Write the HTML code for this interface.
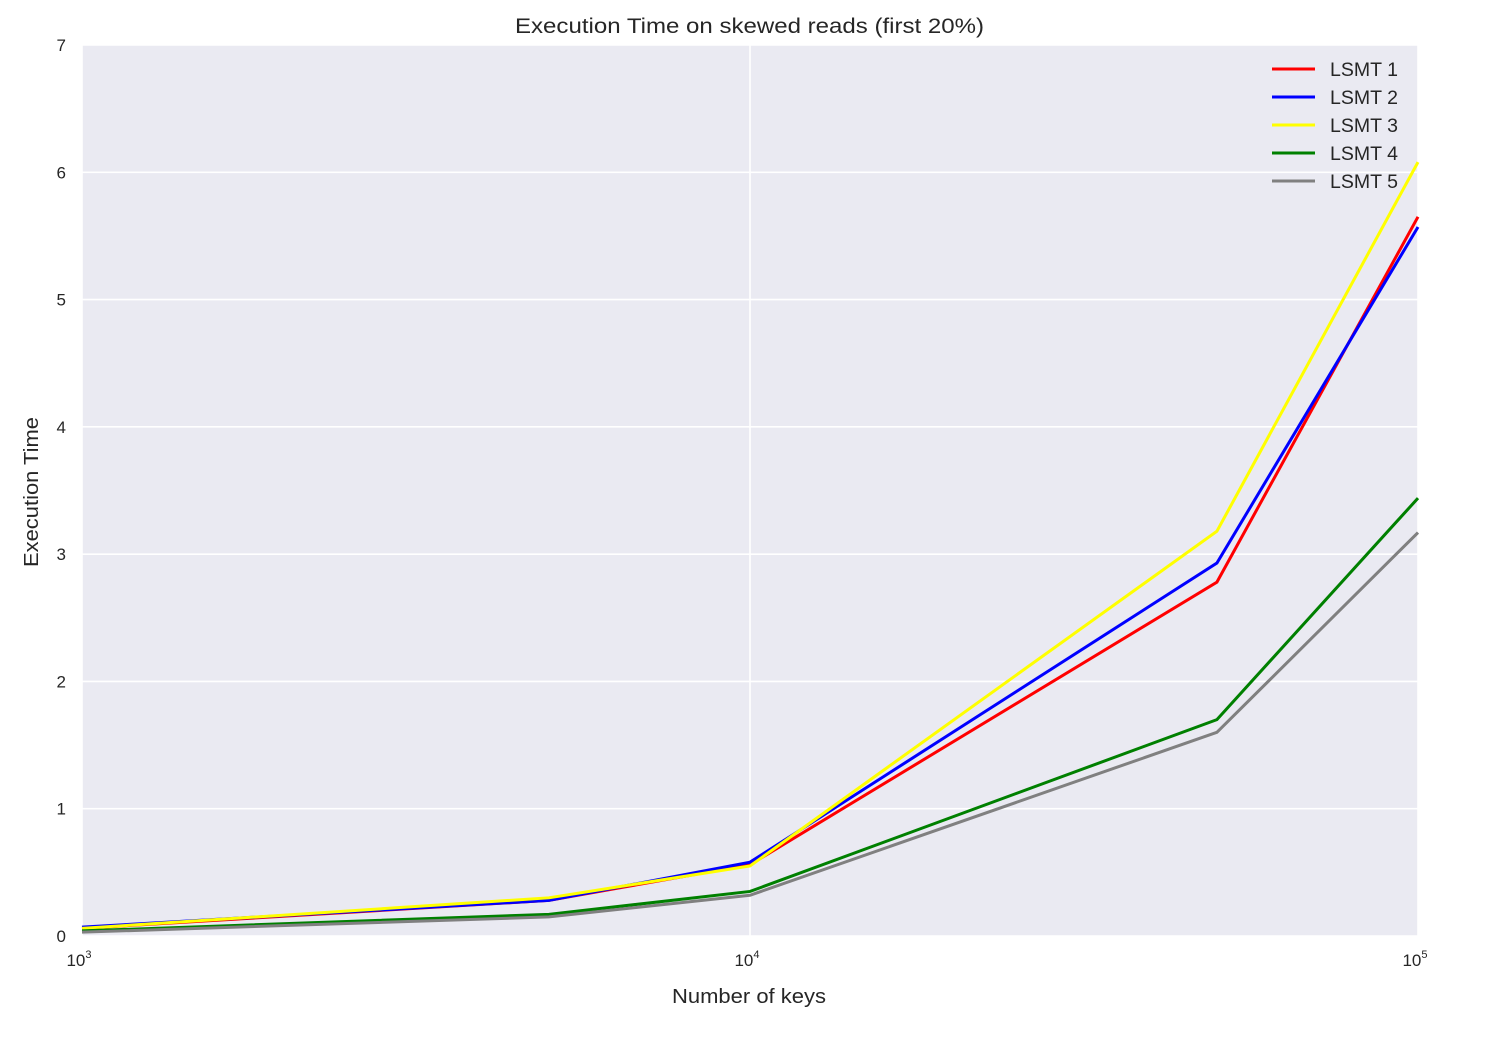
<!DOCTYPE html>
<html><head><meta charset="utf-8"><style>
body{margin:0;background:#fff;}
svg text{font-family:"Liberation Sans",sans-serif;fill:#262626;}
</style></head><body>
<svg id="chart" width="1504" height="1052" xmlns="http://www.w3.org/2000/svg">
<rect x="82" y="45" width="1336" height="891" fill="#EAEAF2"/>
<g id="grid"></g><g id="series"></g><g id="ticks"></g>
<text x="515" y="33" font-size="21" textLength="469" lengthAdjust="spacingAndGlyphs">Execution Time on skewed reads (first 20%)</text>
<text x="672" y="1003" font-size="20" textLength="154" lengthAdjust="spacingAndGlyphs">Number of keys</text>
<text x="38" y="567" font-size="20" textLength="150" lengthAdjust="spacingAndGlyphs" transform="rotate(-90 38 567)">Execution Time</text>
<g id="legend"></g>
</svg>
<script>
const xKeys=[1000,5000,10000,50000,100000];
const names=["LSMT 1","LSMT 2","LSMT 3","LSMT 4","LSMT 5"];
const colors=["#ff0000","#0000ff","#ffff00","#008000","#808080"];
const lsmt1=[0.06,0.28,0.56,2.78,5.65];
const lsmt2=[0.07,0.28,0.58,2.93,5.57];
const lsmt3=[0.06,0.30,0.55,3.18,6.08];
const lsmt4=[0.04,0.17,0.35,1.70,3.44];
const lsmt5=[0.03,0.15,0.32,1.60,3.17];
const yTicks=[0,1,2,3,4,5,6,7];
const xTicks=[3,4,5];
const L=82,R=1418,T=45,B=936;
const xs=v=>L+(Math.log10(v)-3)/2*(R-L);
const ys=v=>B-v/7*(B-T);
const NS="http://www.w3.org/2000/svg";
function mk(tag,parent,attrs){const e=document.createElementNS(NS,tag);for(const k in attrs)e.setAttribute(k,attrs[k]);parent.appendChild(e);return e;}
const grid=document.getElementById('grid'),ticks=document.getElementById('ticks'),ser=document.getElementById('series'),leg=document.getElementById('legend');
yTicks.forEach(t=>{
 const l=mk('line',grid,{x1:L,x2:R,y1:ys(t),y2:ys(t),stroke:'#fff','stroke-width':1.6});
 
 
 const tx=mk('text',ticks,{x:L-16,y:ys(t)+6,'font-size':17,'text-anchor':'end'});
 tx.textContent=t;
 
 
});
xTicks.forEach(p=>{
 const x=xs(Math.pow(10,p));
 const l=mk('line',grid,{x1:x,x2:x,y1:T,y2:B,stroke:'#fff','stroke-width':1.6});
 
 
 const tx=mk('text',ticks,{x:x-3,y:B+30,'font-size':17,'text-anchor':'middle'});
 tx.innerHTML='10<tspan font-size="11" dy="-8">'+p+'</tspan>';
 
 
});
[lsmt1,lsmt2,lsmt3,lsmt4,lsmt5].forEach((s,i)=>{
 const pts=s.map((v,j)=>xs(xKeys[j])+','+ys(v)).join(' ');
 const pl=mk('polyline',ser,{points:pts,fill:'none',stroke:colors[i],'stroke-width':3});
 
 
 const y=69+i*28;
 const g=mk('g',leg,{});
 
 
 mk('line',g,{x1:1272,x2:1315,y1:y,y2:y,stroke:colors[i],'stroke-width':3});
 const tx=mk('text',g,{x:1330,y:y+7,'font-size':19,textLength:68,lengthAdjust:'spacingAndGlyphs'});
 tx.textContent=names[i];
});
</script>
</body></html>
